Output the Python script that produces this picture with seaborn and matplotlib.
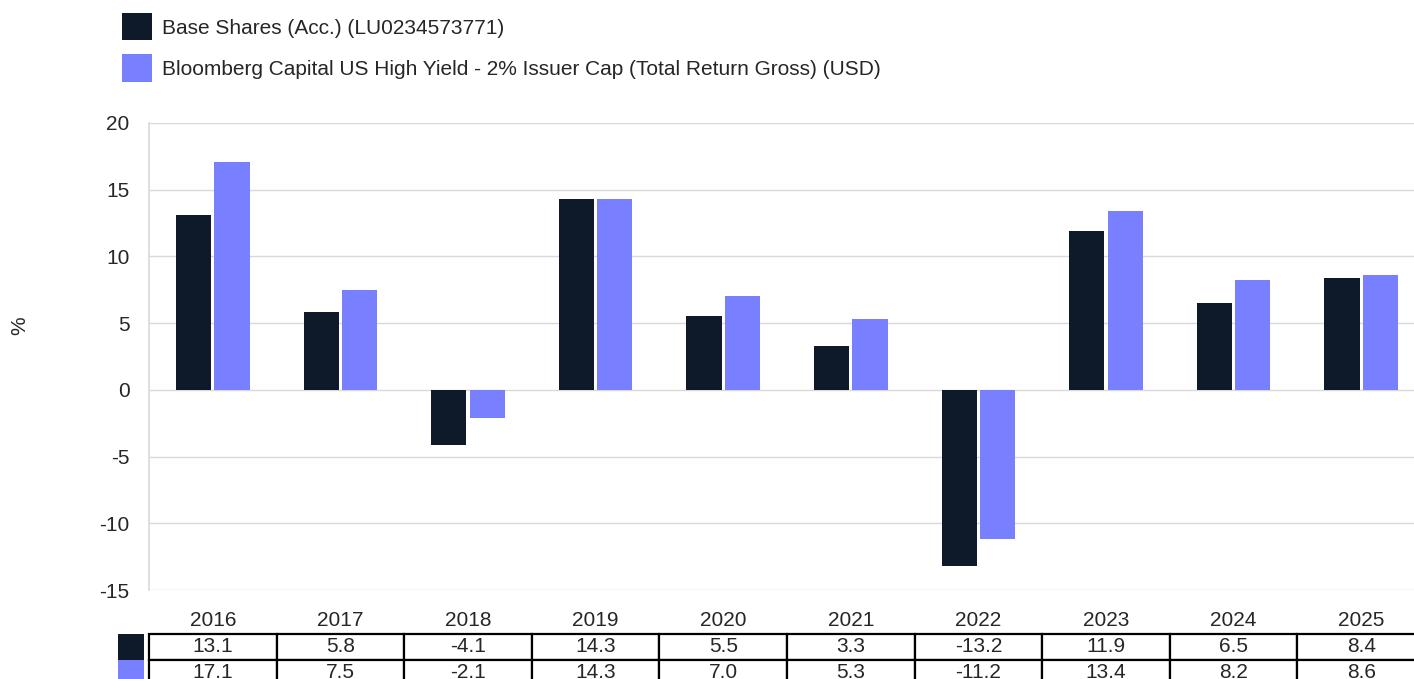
import numpy as np
import pandas as pd
import matplotlib
matplotlib.use("Agg")
import matplotlib.pyplot as plt
import seaborn as sns
from matplotlib.patches import Rectangle

years = ['2016', '2017', '2018', '2019', '2020', '2021', '2022', '2023', '2024', '2025']
base_shares = [13.1, 5.8, -4.1, 14.3, 5.5, 3.3, -13.2, 11.9, 6.5, 8.4]
benchmark = [17.1, 7.5, -2.1, 14.3, 7.0, 5.3, -11.2, 13.4, 8.2, 8.6]
series_names = ['Base Shares (Acc.) (LU0234573771)',
                'Bloomberg Capital US High Yield - 2% Issuer Cap (Total Return Gross) (USD)']
colors = ['#0e1a2a', '#7880ff']

sns.set_style('white')
plt.rcParams['font.family'] = ['Liberation Sans', 'DejaVu Sans']
plt.rcParams['axes.unicode_minus'] = False

df = pd.DataFrame({
    'year': years * 2,
    'value': base_shares + benchmark,
    'series': [series_names[0]] * len(years) + [series_names[1]] * len(years),
})

FS = 15
W, H = 1414, 679
fig = plt.figure(figsize=(W / 100, H / 100), dpi=100)
# axes runs a bit past the right edge of the figure, like the reference
ax = fig.add_axes([149 / W, 1 - 590 / H, 1276 / W, 467 / H])

sns.barplot(data=df, x='year', y='value', hue='series', palette=colors,
            saturation=1, width=0.6, gap=0.08, edgecolor='none', ax=ax)

ax.set_ylim(-15, 20)
ax.set_yticks(range(-15, 21, 5))
ax.set_axisbelow(True)
ax.grid(axis='y', color='#d9d9d9', linewidth=1)
for side in ['top', 'right', 'bottom']:
    ax.spines[side].set_visible(False)
ax.spines['left'].set_color('#d9d9d9')
ax.spines['left'].set_linewidth(1.2)
ax.tick_params(axis='y', length=4.5, color='#d9d9d9', pad=9.5, labelsize=FS)
ax.tick_params(axis='x', length=0, labelbottom=False)
ax.set_xlabel('')
ax.set_ylabel('%', fontsize=FS)
ax.yaxis.set_label_coords(-0.094, 0.567)

# legend at the top
handles, labels = ax.get_legend_handles_labels()
ax.get_legend().remove()
fig.legend(handles, labels, loc='upper left', bbox_to_anchor=(122 / W, 1 - 13 / H),
           frameon=False, fontsize=FS, handlelength=1.45, handleheight=1.65,
           handletextpad=0.48, labelspacing=0.66, borderpad=0, borderaxespad=0)

# table under the chart
cell_text = [[f'{v:.1f}' for v in base_shares], [f'{v:.1f}' for v in benchmark]]
tbl = ax.table(cellText=cell_text, colLabels=years, cellLoc='center',
               bbox=[0, (590 - 686) / 467, 1, 78 / 467])
tbl.auto_set_font_size(False)
tbl.set_fontsize(FS)
for (r, c), cell in tbl.get_celld().items():
    if r == 0:
        cell.visible_edges = ''
    else:
        cell.set_edgecolor('black')
        cell.set_linewidth(1.6)
    cell.set_clip_on(False)

# colour keys left of the table rows
for i, col in enumerate(colors):
    y_top = (590 - 634 - 26 * i) / 467
    ax.add_patch(Rectangle((-31 / 1276, y_top - 26 / 467), 25.5 / 1276, 26 / 467,
                           transform=ax.transAxes, facecolor=col,
                           edgecolor='none', clip_on=False))

fig.savefig('out.png', dpi=100)
